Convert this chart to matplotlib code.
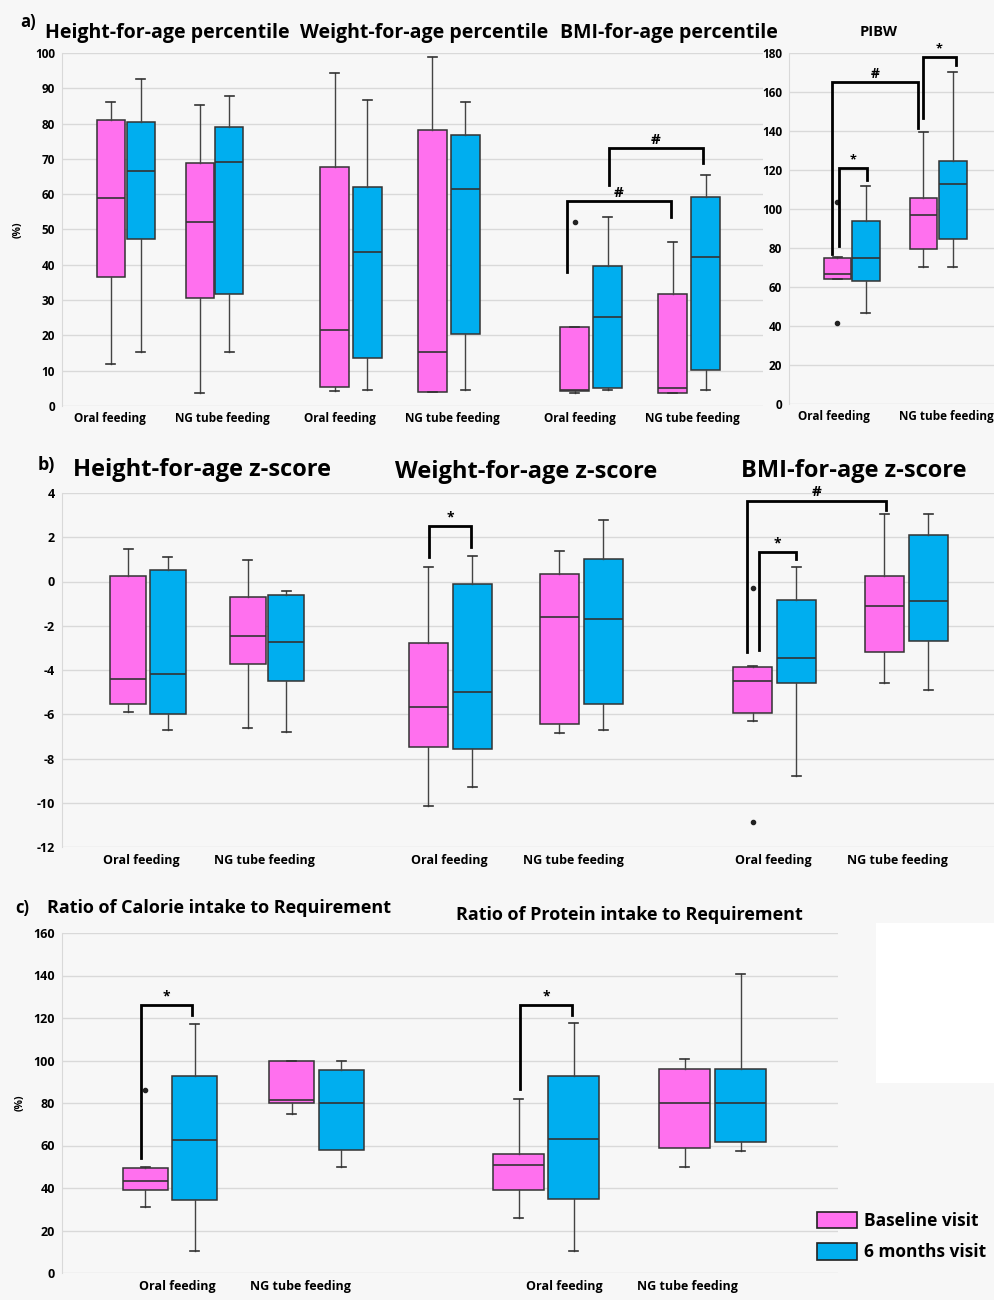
import matplotlib
matplotlib.use('Agg')
import matplotlib.pyplot as plt
from matplotlib.patches import Patch, Rectangle

W, H = 995, 1300
PINK = '#ff70ee'
BLUE = '#00aeef'
BG = '#f7f7f7'
GRID = '#d9d9d9'

plt.rcParams['font.family'] = ['Open Sans', 'DejaVu Sans']

groups = ['Oral feeding', 'NG tube feeding']
visits = ['Baseline visit', '6 months visit']

# box stats (whisker low, Q1, median, Q3, whisker high), order:
# oral baseline, oral 6 months, NG baseline, NG 6 months
hfa_pct = [(12, 36.6, 59, 81, 86), (15.4, 47.2, 66.6, 80.5, 92.6),
           (3.8, 30.5, 52, 68.8, 85.2), (15.4, 31.6, 69, 79, 87.8)]
wfa_pct = [(4.3, 5.5, 21.4, 67.7, 94.3), (4.5, 13.7, 43.5, 62.1, 86.7),
           (4, 4, 15.2, 78.2, 98.8), (4.5, 20.3, 61.5, 76.8, 86)]
bmi_pct = [(3.6, 4.3, 4.6, 22.4, 22.4), (4.5, 5, 25.2, 39.7, 53.6),
           (3.8, 3.8, 5, 31.6, 46.5), (4.5, 10.2, 42.3, 59.1, 65.4)]
bmi_pct_fliers = [[52], [], [], []]
pibw = [(64.2, 64.2, 66.5, 75, 75.5), (46.7, 63.3, 74.9, 93.6, 112),
        (70, 79.5, 97, 105.7, 139.7), (70, 84.6, 112.8, 124.8, 170)]
pibw_fliers = [[41.5, 103.5], [], [], []]

hfa_z = [(-5.9, -5.53, -4.4, 0.25, 1.45), (-6.7, -6.0, -4.2, 0.5, 1.1),
         (-6.6, -3.75, -2.45, -0.7, 0.95), (-6.8, -4.5, -2.75, -0.6, -0.45)]
wfa_z = [(-10.15, -7.5, -5.65, -2.8, 0.65), (-9.3, -7.55, -5.0, -0.1, 1.15),
         (-6.85, -6.45, -1.6, 0.35, 1.4), (-6.7, -5.55, -1.7, 1.0, 2.8)]
bmi_z = [(-6.3, -5.95, -4.5, -3.85, -3.8), (-8.8, -4.6, -3.45, -0.85, 0.65),
         (-4.6, -3.2, -1.1, 0.25, 3.05), (-4.9, -2.7, -0.9, 2.1, 3.05)]
bmi_z_fliers = [[-0.3, -10.85], [], [], []]

calorie = [(31, 39, 43.5, 49.5, 50), (10.5, 34.5, 62.5, 92.7, 117),
           (75, 80, 81.5, 100, 100), (50, 58, 80, 95.5, 100)]
calorie_fliers = [[86], [], [], []]
protein = [(26, 39, 51, 56, 82), (10.5, 34.8, 63, 92.7, 117.5),
           (50, 59, 80, 96, 100.5), (57.5, 61.5, 80, 96, 140.5)]

no_fliers = [[], [], [], []]

# significance brackets: (x left, y left end, y top, x right, y right end, mark)
a_brackets = [(567, 38, 58, 671, 53.6, '#'), (609, 62.6, 73, 703, 68.8, '#')]
pibw_brackets = [(832, 77, 165, 918, 141.5, '#'), (839, 80.8, 120.9, 867, 115, '*'),
                 (923, 146.7, 178, 956, 174, '*')]
b_brackets = [(429, 1.1, 2.5, 471, 1.55, '*'), (747, -3.2, 3.65, 886, 3.23, '#'),
              (759, -3.1, 1.34, 796, 1.0, '*')]
c_brackets = [(141, 54.3, 126, 192, 121.4, '*'), (520, 86.6, 126, 572, 121.4, '*')]


fig = plt.figure(figsize=(W / 100, H / 100), dpi=100, facecolor=BG)


def px_axes(left, top, right, bottom):
    ax = fig.add_axes([left / W, 1 - bottom / H, (right - left) / W, (bottom - top) / H])
    ax.set_facecolor('none')
    ax.set_xlim(left, right)
    for s in ['top', 'right', 'bottom']:
        ax.spines[s].set_visible(False)
    ax.spines['left'].set_color(GRID)
    ax.yaxis.grid(True, color=GRID, lw=1)
    ax.set_axisbelow(True)
    ax.tick_params(axis='both', length=0)
    return ax


def ftext(x, y, s, **kw):
    kw.setdefault('va', 'center')
    kw.setdefault('weight', 'bold')
    fig.text(x / W, 1 - y / H, s, **kw)


def draw_boxes(ax, stats, fliers, centers, width):
    bstats = [dict(whislo=s[0], q1=s[1], med=s[2], q3=s[3], whishi=s[4], fliers=f)
              for s, f in zip(stats, fliers)]
    out = ax.bxp(bstats, positions=centers, widths=width, capwidths=9,
                 patch_artist=True, manage_ticks=False,
                 boxprops=dict(edgecolor='#333333', linewidth=1.1),
                 whiskerprops=dict(color='#444444', linewidth=1),
                 capprops=dict(color='#333333', linewidth=1.2),
                 medianprops=dict(color='#333333', linewidth=1.2),
                 flierprops=dict(marker='o', markersize=3, markerfacecolor='#222222',
                                 markeredgecolor='#222222'))
    for box, c in zip(out['boxes'], [PINK, BLUE, PINK, BLUE]):
        box.set_facecolor(c)


def draw_brackets(ax, brackets, fs_hash=11, fs_star=10):
    for xl, yl, yt, xr, yr, mark in brackets:
        ax.plot([xl, xl, xr, xr], [yl, yt, yt, yr], color='black', lw=2,
                clip_on=False, solid_joinstyle='miter')
        ax.annotate(mark, ((xl + xr) / 2, yt), xytext=(0, 1), textcoords='offset points',
                    ha='center', va='bottom', fontsize=fs_hash if mark == '#' else fs_star,
                    weight='bold', annotation_clip=False)


def set_xlabels(ax, centers, fs, pad):
    ax.set_xticks(centers)
    ax.set_xticklabels(groups * (len(centers) // 2), fontsize=fs, weight='bold')
    ax.tick_params(axis='x', pad=pad)


def set_ylabels(ax, ticks, fs):
    ax.set_yticks(ticks)
    ax.set_yticklabels([str(t) for t in ticks], fontsize=fs, weight='bold')
    ax.tick_params(axis='y', pad=5)


# ---- panel a ----
ax = px_axes(62, 53, 763, 406)
ax.set_ylim(0, 100)
draw_boxes(ax, hfa_pct, no_fliers, [111, 141, 200, 229.5], 28)
draw_boxes(ax, wfa_pct, no_fliers, [335, 367.5, 432.5, 465.5], 29)
draw_boxes(ax, bmi_pct, bmi_pct_fliers, [575, 608, 673, 706], 29)
draw_brackets(ax, a_brackets)
set_ylabels(ax, list(range(0, 101, 10)), 8.5)
set_xlabels(ax, [110, 222, 340, 452, 580, 692], 8.5, 4)

ax = px_axes(789, 53, 995, 404)
ax.set_ylim(0, 180)
draw_boxes(ax, pibw, pibw_fliers, [837.5, 866, 923.5, 953], 27.5)
draw_brackets(ax, pibw_brackets, fs_hash=10, fs_star=9)
set_ylabels(ax, list(range(0, 181, 20)), 8.5)
set_xlabels(ax, [834, 946], 8.5, 4)

ftext(20, 22, 'a)', fontsize=12)
ftext(45, 33, 'Height-for-age percentile', fontsize=14)
ftext(300, 33, 'Weight-for-age percentile', fontsize=14)
ftext(560, 33, 'BMI-for-age percentile', fontsize=14)
ftext(879, 32, 'PIBW', fontsize=10.5, ha='center')
ftext(18, 230, '(%)', fontsize=7.5, rotation=90, ha='center')

# ---- panel b ----
ax = px_axes(62, 493, 995, 847)
ax.set_ylim(-12, 4)
draw_boxes(ax, hfa_z, no_fliers, [128.5, 168, 248, 286.5], 36)
draw_boxes(ax, wfa_z, no_fliers, [428.5, 472.5, 559.5, 603.5], 39)
draw_boxes(ax, bmi_z, bmi_z_fliers, [753, 796.5, 884.5, 928.5], 39)
draw_brackets(ax, b_brackets)
set_ylabels(ax, list(range(-12, 5, 2)), 9)
set_xlabels(ax, [141, 264, 449, 573, 773, 897], 9, 5)

ftext(38, 465, 'b)', fontsize=13)
ftext(73, 470, 'Height-for-age z-score', fontsize=17)
ftext(395, 472, 'Weight-for-age z-score', fontsize=17)
ftext(741, 471, 'BMI-for-age z-score', fontsize=17)

# ---- panel c ----
ax = px_axes(62, 933, 838, 1273)
ax.set_ylim(0, 160)
draw_boxes(ax, calorie, calorie_fliers, [145.5, 195, 292, 341.5], 45)
draw_boxes(ax, protein, no_fliers, [519, 574, 685, 741], 51)
draw_brackets(ax, c_brackets)
set_ylabels(ax, list(range(0, 161, 20)), 9)
set_xlabels(ax, [177, 300, 564, 687], 9, 5)

ftext(15, 908, 'c)', fontsize=12)
ftext(47, 908, 'Ratio of Calorie intake to Requirement', fontsize=13)
ftext(456, 915, 'Ratio of Protein intake to Requirement', fontsize=13)
ftext(20, 1103, '(%)', fontsize=7.5, rotation=90, ha='center')

fig.patches.append(Rectangle((876 / W, 1 - 1083 / H), 119 / W, 160 / H,
                             transform=fig.transFigure, facecolor='white',
                             edgecolor='none', zorder=-1))

handles = [Patch(facecolor=PINK, edgecolor='#222222', lw=1.2),
           Patch(facecolor=BLUE, edgecolor='#222222', lw=1.2)]
fig.legend(handles, visits, loc='upper left', bbox_to_anchor=(808 / W, 1 - 1203 / H),
           frameon=False, prop=dict(weight='bold', size=12.5), handlelength=2.3,
           handleheight=1.1, handletextpad=0.45, labelspacing=0.75, borderpad=0)

fig.savefig('out.png', dpi=100, facecolor=BG)
